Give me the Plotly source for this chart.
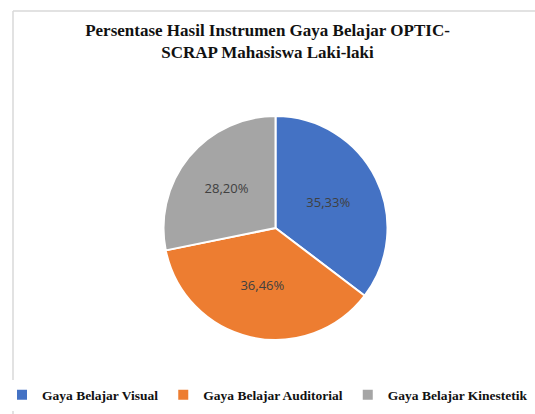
import plotly.graph_objects as go

categories = ["Gaya Belajar Visual", "Gaya Belajar Auditorial", "Gaya Belajar Kinestetik"]
values = [35.33, 36.46, 28.20]
colors = ["#4472C4", "#ED7D31", "#A5A5A5"]
title_text = "Persentase Hasil Instrumen Gaya Belajar OPTIC-<br>SCRAP Mahasiswa Laki-laki"

W, H = 535, 414
cx, cy, R = 275.5, 228, 112
SERIF = "Liberation Serif, Tinos, Times New Roman, serif"

fig = go.Figure(go.Pie(
    labels=["<b>" + c + "</b>" for c in categories],
    values=values,
    sort=False,
    direction="clockwise",
    rotation=0,
    marker=dict(colors=colors, line=dict(color="white", width=2)),
    texttemplate="%{value:.2f}%",
    textposition="inside",
    insidetextorientation="horizontal",
    textfont=dict(family="Open Sans", size=13, color="#404040"),
    hoverinfo="label+percent",
    domain=dict(x=[(cx - R) / W, (cx + R) / W], y=[1 - (cy + R) / H, 1 - (cy - R) / H]),
))

fig.update_layout(
    width=W, height=H,
    separators=",.",
    margin=dict(l=0, r=0, t=0, b=0),
    paper_bgcolor="white",
    plot_bgcolor="white",
    title=dict(
        text="<b>" + title_text + "</b>",
        x=0.5, xanchor="center", xref="paper",
        y=1 - 36 / H, yanchor="top", yref="container",
        font=dict(family=SERIF, size=17, color="#111111"),
    ),
    legend=dict(
        orientation="h",
        x=0.5, xanchor="center",
        y=1 - 395 / H, yanchor="middle",
        font=dict(family=SERIF, size=13.5, color="#111111"),
        itemwidth=30,
        traceorder="normal",
    ),
    shapes=[
        dict(type="line", xref="paper", yref="paper",
             x0=13 / W, x1=13 / W, y0=0, y1=1 - 11 / H,
             line=dict(color="#D9D9D9", width=1.5)),
        dict(type="line", xref="paper", yref="paper",
             x0=13 / W, x1=1, y0=1 - 11 / H, y1=1 - 11 / H,
             line=dict(color="#D9D9D9", width=1.5)),
    ],
)

fig.write_html("out.html", config={"displayModeBar": False},
               post_script="document.body.style.margin='0px';document.body.style.overflow='hidden';")
